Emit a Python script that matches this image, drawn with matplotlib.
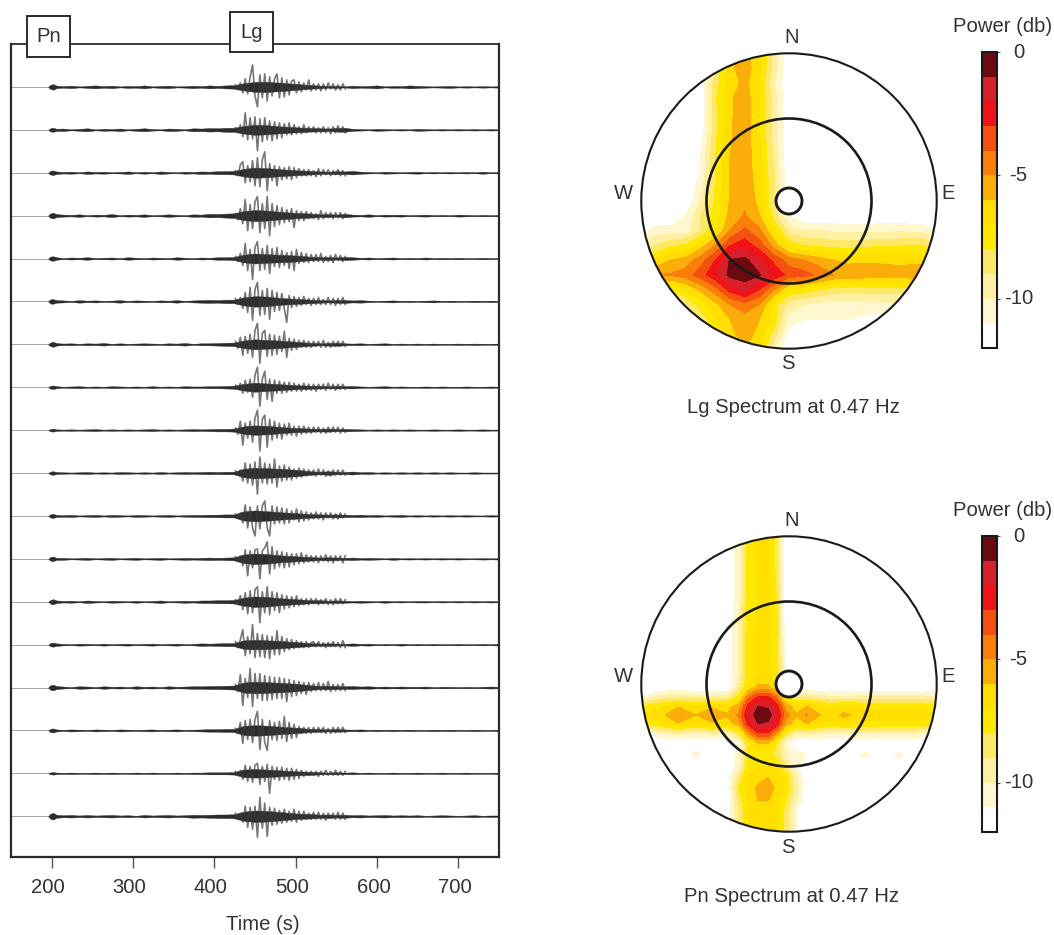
import numpy as np
import matplotlib
matplotlib.use("Agg")
import matplotlib.pyplot as plt
from matplotlib.colors import ListedColormap
from matplotlib.patches import Circle, Rectangle
from matplotlib.transforms import ScaledTranslation

plt.rcParams['font.family'] = ['Liberation Sans', 'DejaVu Sans']
plt.rcParams['axes.unicode_minus'] = False

# seismogram sections, amplitudes
noise_t = [196, 199, 202, 206,
           214, 224, 234, 244, 254, 264, 274, 284, 294, 304, 314, 324, 334, 344, 354, 364, 374, 384, 394, 404, 414, 424,
           436, 450, 465, 480, 500, 518,
           530, 540, 550, 560, 570, 580, 590, 600, 610, 620, 630, 640, 650, 660, 670, 680, 690, 700, 710, 720, 730, 740, 750]
burst_t = [426, 429, 432, 435, 438, 441, 444, 447, 450, 453, 456, 459, 462, 465, 468, 471, 474,
           477, 480, 483, 486, 489, 492, 495, 498, 501, 504, 507, 510, 513, 516, 519, 522,
           525, 528, 531, 534, 537, 540, 543, 546, 549, 552, 555, 558, 561]

noise = [
    [2, 9, 11, 5,  3, 5, 2, 4, 6,  3, 5, 2, 4, 3,  6, 2, 4, 5, 2,  3, 5, 3, 6, 4,  6, 7,  14, 20, 20, 17, 12, 7,  5, 3, 4, 2, 5,  3, 4, 6, 2, 4,  3, 6, 4, 3, 2,  3, 4, 2, 3, 2,  3, 2, 3],
    [1, 7, 8, 4,  5, 2, 4, 6, 2,  4, 3, 5, 2, 4,  6, 3, 2, 5, 4,  2, 6, 5, 7, 6,  8, 8,  15, 20, 18, 14, 10, 7,  6, 5, 7, 8, 4,  3, 2, 4, 3, 2,  3, 2, 4, 3, 2,  3, 2, 3, 2, 3,  2, 3, 2],
    [2, 8, 9, 5,  3, 4, 2, 5, 3,  4, 2, 3, 5, 2,  4, 2, 5, 3, 2,  4, 3, 5, 4, 6,  6, 7,  15, 20, 18, 14, 10, 7,  5, 4, 6, 5, 7,  4, 3, 2, 4, 3,  2, 3, 4, 2, 3,  2, 3, 2, 3, 2,  4, 2, 3],
    [2, 10, 11, 6,  4, 3, 5, 2, 4,  3, 6, 2, 4, 3,  5, 2, 3, 5, 3,  2, 5, 4, 7, 6,  8, 9,  18, 22, 20, 15, 11, 8,  5, 6, 4, 7, 4,  3, 5, 2, 4, 3,  4, 2, 3, 4, 2,  3, 2, 4, 3, 2,  3, 2, 3],
    [2, 8, 9, 5,  2, 4, 3, 5, 2,  3, 4, 2, 5, 3,  2, 4, 3, 2, 5,  3, 2, 4, 3, 5,  5, 6,  15, 20, 17, 15, 12, 7,  5, 6, 4, 6, 5,  3, 4, 2, 3, 4,  2, 3, 2, 4, 2,  3, 2, 3, 2, 2,  3, 2, 2],
    [2, 9, 9, 5,  4, 2, 5, 3, 4,  2, 3, 5, 2, 4,  3, 2, 4, 3, 5,  2, 4, 5, 6, 5,  7, 7,  16, 21, 19, 14, 10, 7,  5, 4, 5, 6, 4,  5, 3, 2, 3, 4,  2, 3, 2, 3, 4,  2, 3, 2, 2, 3,  2, 3, 2],
    [2, 8, 10, 5,  3, 4, 2, 4, 3,  5, 2, 4, 2, 3,  4, 3, 2, 4, 3,  5, 2, 4, 4, 5,  6, 7,  15, 20, 17, 15, 10, 6,  4, 5, 6, 4, 3,  4, 2, 3, 4, 2,  3, 2, 3, 2, 3,  2, 2, 3, 2, 3,  2, 2, 3],
    [1, 6, 7, 4,  2, 3, 4, 2, 3,  2, 4, 3, 2, 3,  2, 4, 2, 3, 2,  4, 3, 3, 4, 4,  5, 6,  13, 18, 15, 12, 8, 6,  5, 4, 5, 4, 5,  3, 2, 3, 4, 2,  3, 2, 2, 3, 2,  3, 2, 2, 3, 2,  2, 3, 2],
    [1, 5, 6, 3,  2, 3, 2, 3, 4,  2, 3, 2, 3, 2,  3, 4, 2, 3, 2,  3, 4, 3, 4, 5,  5, 6,  15, 19, 17, 13, 8, 6,  5, 6, 4, 5, 4,  3, 2, 3, 2, 3,  2, 3, 2, 2, 3,  2, 2, 3, 2, 2,  3, 2, 2],
    [1, 6, 7, 4,  3, 2, 3, 4, 2,  3, 2, 4, 3, 2,  3, 2, 4, 2, 3,  4, 3, 4, 5, 4,  5, 5,  17, 21, 19, 17, 13, 7,  5, 7, 5, 4, 6,  3, 4, 2, 3, 2,  3, 2, 3, 2, 3,  2, 3, 2, 2, 3,  2, 2, 2],
    [1, 7, 8, 4,  3, 4, 2, 3, 4,  2, 4, 3, 2, 4,  3, 2, 3, 4, 2,  3, 4, 4, 5, 5,  6, 6,  18, 22, 19, 15, 11, 7,  6, 5, 6, 5, 4,  5, 3, 4, 2, 3,  4, 2, 3, 2, 3,  2, 3, 2, 3, 2,  2, 3, 2],
    [1, 8, 9, 4,  4, 2, 3, 4, 2,  3, 4, 2, 3, 4,  2, 3, 4, 2, 3,  4, 3, 4, 5, 4,  5, 6,  17, 21, 19, 14, 10, 7,  5, 6, 5, 4, 5,  3, 4, 3, 2, 4,  2, 3, 2, 3, 2,  3, 2, 3, 2, 2,  3, 2, 3],
    [1, 8, 10, 5,  3, 4, 2, 5, 3,  2, 4, 3, 2, 4,  2, 3, 5, 2, 3,  4, 3, 5, 5, 6,  6, 7,  16, 21, 19, 14, 10, 6,  6, 4, 5, 4, 3,  4, 3, 2, 4, 2,  3, 2, 3, 3, 2,  3, 2, 3, 2, 3,  2, 3, 2],
    [1, 7, 8, 5,  3, 2, 4, 3, 2,  4, 2, 3, 4, 2,  3, 4, 2, 3, 4,  2, 3, 5, 4, 5,  6, 6,  17, 19, 17, 15, 10, 6,  4, 5, 4, 3, 5,  3, 4, 2, 3, 2,  4, 2, 3, 2, 3,  2, 2, 3, 2, 2,  3, 2, 4],
    [2, 10, 11, 6,  4, 2, 5, 4, 2,  5, 3, 4, 2, 5,  3, 4, 2, 5, 3,  4, 5, 5, 6, 6,  7, 8,  20, 23, 21, 19, 15, 9,  6, 7, 6, 5, 6,  4, 5, 3, 4, 3,  4, 3, 3, 4, 2,  3, 3, 2, 3, 2,  3, 4, 3],
    [1, 7, 8, 4,  2, 4, 3, 2, 4,  3, 2, 4, 3, 2,  3, 4, 2, 3, 4,  2, 3, 4, 5, 5,  6, 6,  18, 21, 19, 15, 11, 6,  5, 4, 5, 4, 3,  4, 2, 3, 2, 3,  2, 3, 2, 2, 3,  2, 3, 2, 2, 3,  2, 2, 3],
    [1, 4, 5, 3,  2, 3, 2, 2, 3,  2, 3, 2, 2, 3,  2, 3, 2, 2, 3,  2, 3, 3, 4, 4,  4, 5,  15, 17, 15, 12, 8, 6,  4, 3, 4, 3, 4,  2, 3, 2, 2, 3,  2, 2, 3, 2, 2,  3, 2, 2, 3, 2,  2, 2, 3],
    [2, 11, 13, 6,  4, 5, 3, 5, 3,  4, 5, 3, 4, 2,  5, 3, 4, 5, 3,  4, 6, 5, 6, 7,  7, 8,  18, 23, 21, 17, 11, 9,  6, 7, 5, 6, 4,  5, 3, 4, 5, 3,  4, 3, 4, 2, 3,  4, 3, 2, 3, 4,  2, 3, 3],
]

burst = [
    [2, -3, 4, -6, 8, -7, 10, 22, -9, -20, 12, -11, 13, -14, 10, -9, 8, 13, -11, 9, -10, 7, -8, 6, 7, -6, 5, -5, 4, -3, 7, -4, 3, -3, 3, -4, 3, -3, 4, -2, 3, -3, 2, -3, 3, -2],
    [2, -3, 5, -7, 17, -10, 12, -9, 13, -21, 11, -12, 12, -10, 9, -11, 8, -9, 7, -8, 6, -5, 7, -5, 5, -4, 3, -4, 5, -3, 3, -2, 3, -3, 2, -3, 3, -3, 2, -4, 3, -3, 4, -2, 3, -3],
    [2, -3, 8, 11, -10, 7, -9, 12, -13, 15, -14, 13, 21, -18, 9, -8, 7, -13, 6, -7, 5, -6, 6, -7, 5, -5, 4, -3, 3, -3, 3, -3, 2, -4, 4, -3, 3, -2, 3, -3, 2, -2, 3, -3, 2, -3],
    [2, -4, 7, -8, 16, -15, 11, -13, 14, 19, -17, 12, -13, 19, -20, 12, -11, 10, -9, 8, -7, 6, -6, 7, -12, 5, -5, 4, -5, 4, -3, 3, -3, 2, -4, 5, -3, 3, -2, 3, -3, 3, -2, 3, -3, 2],
    [2, -3, 5, -7, 15, -12, 9, -21, 11, 17, -12, 10, -11, 13, -15, 10, -8, 11, -9, 8, -7, 6, -10, 7, -12, 9, -5, 6, -4, 5, -4, 4, -3, 4, -3, 5, -4, 2, -3, 3, -4, 4, -2, 3, -3, 2],
    [3, -3, 4, -7, 9, -11, 14, -19, 12, 19, -14, 11, -13, 13, -18, 11, -10, 9, -9, 8, -7, -21, 6, -6, 5, -5, 4, -4, 5, -3, 3, -4, 3, -3, 4, -3, 2, -3, 4, -3, 3, -4, 3, -3, 4, -3],
    [3, -4, 7, -11, 8, -9, 10, -13, 14, 21, -19, 11, 14, -12, 10, -11, 9, -10, 8, -7, 13, -13, 6, -6, 5, -5, 4, -3, 4, -3, 3, -3, 3, -2, 3, -3, 4, -3, 2, -3, 3, -2, 3, -2, 3, -2],
    [2, -2, 4, -6, 7, -5, 8, -10, 12, 20, -19, 8, 16, -12, 8, -14, 7, -6, 6, -6, 5, -5, 5, -4, 4, -4, 3, -4, 4, -3, 3, -3, 3, -4, 3, -2, 3, -3, 4, -2, 3, -3, 3, -2, 3, -2],
    [2, -4, 9, -15, 7, -8, 9, -12, 12, 20, -21, 11, 15, -17, 11, -10, 9, -8, 7, -9, 6, -5, 7, -5, 4, -6, 4, -4, 4, -3, 3, -3, 3, -2, 3, -3, 2, -3, 3, -2, 3, -2, 3, -3, 2, -2],
    [2, -2, 3, -8, 10, -10, 9, -12, 11, -21, 16, -10, 10, -11, 9, -10, 14, -14, 7, -8, 8, -7, 6, -7, 4, -5, 5, -4, 4, -3, 3, -2, 3, -3, 4, -2, 3, -3, 2, -3, 3, -2, 3, -2, 3, -2],
    [2, -2, 3, -7, 11, -12, 9, -12, -20, 10, -13, 10, 15, -12, -20, 10, -8, 9, -7, 8, -8, 7, -7, 5, -4, 7, -6, 5, -5, 4, -4, 3, -3, 4, -3, 3, -4, 3, -2, 3, -3, 2, -3, 3, -2, 2],
    [2, -2, 3, -7, 9, -17, 8, -9, 9, 10, -20, 8, 11, 17, -15, 12, -10, 8, -8, 7, -9, 6, -8, 5, -6, 5, -5, 6, -4, 4, -3, 3, -3, 3, -4, 3, -2, 4, -3, 3, -4, 3, -2, 3, -4, 3],
    [2, -3, 6, -8, 9, -12, 11, -11, 12, 15, -21, 10, -11, 15, -13, 10, -9, 9, -11, 7, -7, 6, -6, 5, -5, 6, -4, 3, -3, 3, -3, 3, -2, 3, -3, 2, -2, 3, -3, 2, -3, 3, -2, 3, -2, 2],
    [3, -3, 5, 15, -11, 8, -9, 20, -13, 11, -12, 10, -13, 9, -14, 8, -10, 14, -10, 8, -7, 6, -5, 5, -4, 4, -3, 3, -3, 3, -3, 2, 3, -2, 3, -2, 2, -3, 2, -2, 3, -2, 2, -3, 4, -3],
    [3, -4, 13, -18, 9, -10, 19, -19, 14, -11, 14, -13, 12, -13, 11, -12, 10, -11, 10, -11, 9, -14, 8, -9, 7, -8, 6, -6, 5, -7, 5, -4, 4, -3, 5, -3, 4, -3, 6, -4, 3, -3, 3, -3, 4, -3],
    [2, -3, 8, -13, 10, -9, 11, -12, 11, 19, -19, 11, -12, -20, 10, -9, 8, -10, 9, -8, 14, -11, 8, -8, 6, -7, 4, -3, 3, -3, 3, -3, 3, -2, 3, -2, 3, -3, 2, -3, 3, -2, 3, -2, 3, -2],
    [2, -2, 3, -6, 8, -8, 7, -9, 8, 10, -11, 7, -8, 9, -20, 7, -6, 6, -7, 6, -6, 5, -7, 5, -6, 4, -5, 3, -3, 2, -2, 2, -2, 2, -3, 2, -2, 3, -2, 2, -2, 3, -2, 2, -2, 2],
    [3, -3, 3, -6, 10, -11, 9, -13, 10, -21, 19, -12, 13, -20, 9, -9, 8, -8, 6, -7, 7, -6, 5, -5, 7, -6, 5, -4, 5, -3, 3, -3, 4, -3, 4, -3, 3, -4, 3, -2, 3, -3, 4, -3, 3, -3],
]

time_ticks = [200, 300, 400, 500, 600, 700]

# power grids, rows go from north to south
lg_x = [-1.0, -0.9, -0.8, -0.7, -0.6, -0.5, -0.4, -0.3, -0.2, -0.1, 0.0, 0.1, 0.2, 0.3, 0.4, 0.5, 0.6, 0.7, 0.8, 0.9, 1.0]
lg_y = [1.0, 0.9, 0.8, 0.7, 0.6, 0.5, 0.4, 0.3, 0.2, 0.1, 0.0, -0.1, -0.2, -0.3, -0.4, -0.5, -0.6, -0.7, -0.8, -0.9, -1.0]
lg_power = [
    [-12, -12, -12, -12, -12, -9.2, -6.4, -5.5, -6.8, -9.5, -12, -12, -12, -12, -12, -12, -12, -12, -12, -12, -12],
    [-12, -12, -12, -12, -12, -9.2, -6.3, -5.4, -6.8, -9.5, -12, -12, -12, -12, -12, -12, -12, -12, -12, -12, -12],
    [-12, -12, -12, -12, -12, -8.5, -6.6, -5.7, -7, -10, -12, -12, -12, -12, -12, -12, -12, -12, -12, -12, -12],
    [-12, -12, -12, -12, -12, -8.2, -6.2, -5.4, -7, -9.5, -12, -12, -12, -12, -12, -12, -12, -12, -12, -12, -12],
    [-12, -12, -12, -12, -12, -8.4, -6.2, -5.4, -7, -9.6, -12, -12, -12, -12, -12, -12, -12, -12, -12, -12, -12],
    [-12, -12, -12, -12, -12, -8.4, -6.1, -5.4, -7, -9.5, -12, -12, -12, -12, -12, -12, -12, -12, -12, -12, -12],
    [-12, -12, -12, -12, -11.5, -8.2, -6.1, -5.4, -6.9, -9.4, -12, -12, -12, -12, -12, -12, -12, -12, -12, -12, -12],
    [-12, -12, -12, -12, -11, -8.1, -6, -5.3, -6.8, -9.2, -12, -12, -12, -12, -12, -12, -12, -12, -12, -12, -12],
    [-12, -12, -12, -12, -11, -8, -6, -5.3, -6.7, -9, -12, -12, -12, -12, -12, -12, -12, -12, -12, -12, -12],
    [-12, -12, -12, -12, -10.5, -8, -6, -5.3, -6.5, -9, -12, -12, -12, -12, -12, -12, -12, -12, -12, -12, -12],
    [-12, -12, -12, -12, -10, -7.8, -5.9, -5.2, -6.3, -9, -12, -12, -12, -12, -12, -12, -12, -12, -12, -12, -12],
    [-12, -12, -12, -11, -9, -7.5, -5.7, -4.9, -6, -8.5, -11, -12, -12, -12, -12, -12, -12, -12, -12, -12, -12],
    [-11.5, -10.5, -10.5, -10.5, -9, -7.2, -5, -3.8, -4.8, -7, -9.5, -10, -10, -10.2, -10.3, -10.3, -10.2, -10.2, -10.2, -10.3, -11],
    [-10, -9, -8.2, -7.8, -6.5, -5, -3.1, -2.4, -3.5, -5.5, -7.5, -8, -8.2, -8.4, -8.5, -8.3, -8.2, -8.2, -8, -8, -9],
    [-7.5, -6.8, -6, -5.6, -4.5, -3, -0.9, -0.7, -1.9, -3.3, -4.5, -5, -5.5, -6, -6.3, -6.2, -6.2, -6.3, -6.3, -6.5, -7],
    [-5.5, -5, -4.9, -4.5, -3.5, -2.2, -0.7, -0.3, -0.9, -2.3, -3.3, -3.6, -4.2, -5, -5.2, -5.3, -5.4, -5.4, -5.4, -4.9, -5.5],
    [-8.5, -8, -8, -7, -5.8, -4.5, -2.6, -1.8, -3, -5, -7.2, -7.5, -8, -8.5, -8.6, -8.6, -8.5, -8.5, -8.5, -8.6, -9],
    [-12, -11.5, -10.5, -9, -7.5, -6.3, -5, -4.3, -5, -7.5, -9.5, -10, -10.3, -10.5, -10.5, -10.4, -10.3, -10.2, -10.5, -11, -12],
    [-12, -12, -12, -11, -9, -7, -6, -5.5, -6, -7.5, -10.5, -11, -11, -11, -11, -11.2, -11.5, -12, -12, -12, -12],
    [-12, -12, -12, -12, -11, -8, -6.4, -5.4, -6.4, -8.5, -11.5, -12, -12, -12, -12, -12, -12, -12, -12, -12, -12],
    [-12, -12, -12, -12, -12, -9, -7, -6, -7, -10, -12, -12, -12, -12, -12, -12, -12, -12, -12, -12, -12],
]

pn_x = [-1.0, -0.87, -0.75, -0.63, -0.52, -0.42, -0.34, -0.28, -0.21, -0.14, -0.08, -0.02, 0.05, 0.12, 0.2, 0.28, 0.37, 0.52, 0.63, 0.74, 0.87, 1.0]
pn_y = [1.0, 0.85, 0.65, 0.45, 0.25, 0.08, -0.02, -0.09, -0.15, -0.21, -0.27, -0.33, -0.4, -0.48, -0.56, -0.62, -0.7, -0.78, -0.86, -0.93, -1.0]
pn_power = [
    [-12, -12, -12, -12, -12, -12, -10.5, -7.6, -6.9, -6.9, -8.5, -12, -12, -12, -12, -12, -12, -12, -12, -12, -12, -12],
    [-12, -12, -12, -12, -12, -12, -10.5, -7.6, -6.9, -6.9, -8.5, -12, -12, -12, -12, -12, -12, -12, -12, -12, -12, -12],
    [-12, -12, -12, -12, -12, -12, -10.5, -7.8, -7, -7, -8.2, -12, -12, -12, -12, -12, -12, -12, -12, -12, -12, -12],
    [-12, -12, -12, -12, -12, -12, -10, -7.6, -6.9, -6.9, -8, -12, -12, -12, -12, -12, -12, -12, -12, -12, -12, -12],
    [-12, -12, -12, -12, -12, -12, -10, -7.5, -6.8, -6.8, -8, -11.5, -12, -12, -12, -12, -12, -12, -12, -12, -12, -12],
    [-12, -12, -12, -12, -12, -12, -10, -7.5, -6.8, -6.8, -7.8, -11, -12, -12, -12, -12, -12, -12, -12, -12, -12, -12],
    [-12, -12, -12, -12, -12, -12, -9.5, -7, -5.8, -5.8, -7, -10.5, -12, -12, -12, -12, -12, -12, -12, -12, -12, -12],
    [-11, -9.5, -9.3, -9.5, -9.5, -9.6, -7.5, -4.5, -2.8, -2.8, -4.5, -7.5, -9, -9, -9.5, -9.8, -9.8, -9.6, -9.5, -9.5, -9.5, -10],
    [-8, -7.2, -6.1, -7, -6.2, -6.6, -5.5, -2.8, -1, -1.2, -2.6, -5.5, -6.6, -6, -6.6, -7.3, -6.8, -7.2, -7.2, -7.2, -7.2, -7.8],
    [-7, -6.3, -5.2, -6, -5.2, -5.9, -4.8, -2, -0.3, -0.5, -2, -4.6, -5.9, -4.9, -5.9, -6.6, -5.7, -6.7, -6.6, -6.6, -6.6, -7],
    [-8, -7.2, -6.1, -7, -6.2, -6.6, -5.5, -2.8, -1, -1.2, -2.6, -5.5, -6.6, -6, -6.6, -7.3, -6.8, -7.2, -7.2, -7.2, -7.2, -7.8],
    [-12, -10, -9.5, -10, -9.5, -10, -8, -5, -3, -3, -5, -8, -9.6, -9.5, -9.8, -10, -10, -9.8, -9.8, -9.8, -9.8, -11],
    [-12, -12, -12, -12, -12, -12, -11, -8, -6, -6, -8, -11, -12, -12, -12, -12, -12, -12, -12, -12, -12, -12],
    [-12, -12, -12, -10.7, -12, -12, -10.5, -8, -7.5, -7.5, -8.5, -10, -10.5, -11, -12, -12, -12, -10.7, -12, -10.7, -12, -12],
    [-12, -12, -12, -12, -12, -12, -10.5, -7.5, -7, -7, -7, -9, -11, -12, -12, -12, -12, -12, -12, -12, -12, -12],
    [-12, -12, -12, -12, -12, -12, -9, -7, -6.5, -6.1, -6.5, -7.5, -10, -12, -12, -12, -12, -12, -12, -12, -12, -12],
    [-12, -12, -12, -12, -12, -12, -8, -6.6, -5.8, -5.4, -6.4, -7.2, -9.5, -12, -12, -12, -12, -12, -12, -12, -12, -12],
    [-12, -12, -12, -12, -12, -12, -8.5, -6.9, -5.95, -5.9, -6.6, -7.8, -10, -12, -12, -12, -12, -12, -12, -12, -12, -12],
    [-12, -12, -12, -12, -12, -12, -9, -7, -6.6, -6.6, -7, -8.5, -11, -12, -12, -12, -12, -12, -12, -12, -12, -12],
    [-12, -12, -12, -12, -12, -12, -9, -7, -6.6, -6.6, -7, -8.5, -11, -12, -12, -12, -12, -12, -12, -12, -12, -12],
    [-12, -12, -12, -12, -12, -12, -9, -7, -6.6, -6.6, -7, -8.5, -11, -12, -12, -12, -12, -12, -12, -12, -12, -12],
]

levels = [-12, -11, -10, -9, -8, -7, -6, -5, -4, -3, -2, -1, 0]
band_colors = ['#ffffff', '#fff8cf', '#fff0a2', '#ffe768', '#ffe800', '#ffde00',
               '#fbad0a', '#f97f0a', '#f4500f', '#f01418', '#d8202a', '#6b0a10']
power_ticks = [0, -5, -10]

W, H = 1054, 935
text_color = '#333333'
font_size = 14.6


def px_box(x0, y0, x1, y1):
    # pixel box of the picture -> figure fractions
    return [x0 / W, 1 - y1 / H, (x1 - x0) / W, (y1 - y0) / H]


fig = plt.figure(figsize=(W / 100, H / 100), dpi=100)

# seismograms
ax = fig.add_axes(px_box(11, 44, 499, 857))
amp_scale = 1 / 42.9
for i in range(18):
    ax.plot([150, 750], [i, i], color='#a5a5a5', lw=0.7, zorder=1)
    core = np.array(noise[i]) * 0.25 * amp_scale
    ax.fill_between(noise_t, i - core, i + core, color='#2b2b2b', lw=0.3, zorder=2)
    ax.plot(burst_t, i - np.array(burst[i]) * amp_scale, color='#3c3c3c', lw=1.2, alpha=0.7, zorder=3)

ax.set_xlim(150, 750)
ax.set_ylim(17.95, -1.0)
ax.set_yticks([])
ax.set_xticks(time_ticks)
ax.tick_params(axis='x', length=8, width=1, color='#555555', pad=7, labelsize=font_size, labelcolor=text_color)
for lab in ax.get_xticklabels():
    lab.set_transform(lab.get_transform() + ScaledTranslation(-3.5 / 100, 0, fig.dpi_scale_trans))
for side in ax.spines:
    ax.spines[side].set_linewidth(1.6)
    ax.spines[side].set_color('#2a2a2a')
ax.spines['top'].set_linewidth(1.3)
ax.set_xlabel("Time (s)", fontsize=font_size, color=text_color)
ax.xaxis.set_label_coords((263 - 11) / 488, (857 - 925) / 813)
ax.xaxis.label.set_va('center')

# phase boxes on the top edge
for name, (x0, y0, x1, y1), ty in [("Pn", (27, 16, 70, 57), 37), ("Lg", (230, 12, 273, 52), 32)]:
    box = px_box(x0, y0, x1, y1)
    fig.add_artist(Rectangle((box[0], box[1]), box[2], box[3], transform=fig.transFigure,
                             fc='white', ec='#2a2a2a', lw=1.4, zorder=5))
    fig.text((x0 + x1) / 2 / W, 1 - ty / H, name, ha='center', va='center',
             fontsize=font_size, color=text_color, zorder=6)

cmap = ListedColormap(band_colors)


def spectrum(cx, cy, x, y, power, title, title_pos, ns_y, bar_top):
    R = 147.7
    pol = fig.add_axes(px_box(cx - R * 1.5, cy - R * 1.5, cx + R * 1.5, cy + R * 1.5))
    pol.set_xlim(-1.5, 1.5)
    pol.set_ylim(-1.5, 1.5)
    pol.axis('off')
    edge = Circle((0, 0), 1, fc='none', ec='#1a1a1a', lw=1.5, zorder=4)
    pol.add_patch(edge)
    cf = pol.contourf(x, y, power, levels=levels, cmap=cmap, zorder=1)
    cf.set_clip_path(edge)
    pol.add_patch(Circle((0, 0), 82.5 / R, fc='none', ec='#1a1a1a', lw=1.9, zorder=4))
    pol.add_patch(Circle((0, 0), 13 / R, fc='white', ec='#1a1a1a', lw=2.1, zorder=4))
    for name, tx, ty in [("N", 0.02, ns_y[0]), ("S", -0.01, ns_y[1]), ("W", -1.12, 0.05), ("E", 1.08, 0.05)]:
        pol.text(tx, ty, name, ha='center', va='center', fontsize=font_size, color=text_color)
    pol.text(title_pos[0], title_pos[1], title, ha='center', va='center', fontsize=font_size, color=text_color)

    cax = fig.add_axes(px_box(982, bar_top, 997, bar_top + 296))
    cb = fig.colorbar(cf, cax=cax, ticks=power_ticks)
    cb.outline.set_linewidth(1.5)
    cb.outline.set_edgecolor('#1a1a1a')
    cax.tick_params(length=2.5, width=0.8, color='#555555', pad=13, labelsize=font_size, labelcolor=text_color)
    for lab in cax.get_yticklabels():
        lab.set_ha('center')
        lab.set_transform(lab.get_transform() + ScaledTranslation(0, 2 / 100, fig.dpi_scale_trans))
    fig.text(1002.5 / W, 1 - (bar_top - 25) / H, "Power (db)", ha='center', va='center',
             fontsize=font_size, color=text_color)


spectrum(789, 201, lg_x, lg_y, lg_power, "Lg Spectrum at 0.47 Hz", (0.03, -1.40), (1.11, -1.10), 52)
spectrum(789, 684, pn_x, pn_y, pn_power, "Pn Spectrum at 0.47 Hz", (0.02, -1.44), (1.11, -1.11), 536)

fig.savefig("out.png", dpi=100)
